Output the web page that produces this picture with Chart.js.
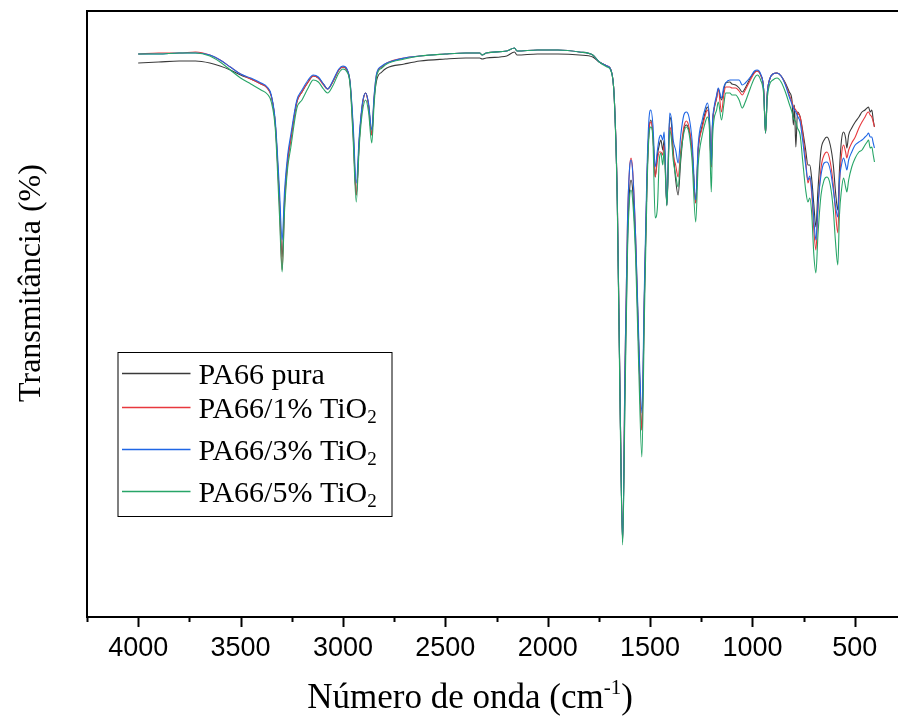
<!DOCTYPE html>
<html>
<head>
<meta charset="utf-8">
<script src="https://cdn.jsdelivr.net/npm/chart.js@4.4.1/dist/chart.umd.min.js"></script>
<style>
  html, body { margin: 0; padding: 0; background: #fff; overflow: hidden; }
  #wrap { width: 910px; height: 720px; }
</style>
</head>
<body>
<div id="wrap"><canvas id="ftir" width="910" height="720"></canvas></div>
<script>
// wavenumbers (cm-1), shared by all spectra
const wavenumber = [
  4000, 3900, 3800, 3720, 3650, 3600, 3550, 3500, 3450, 3400, 3370, 3350, 3330, 3310, 3297, 3285,
  3270, 3255, 3225, 3200, 3170, 3145, 3120, 3095, 3075, 3050, 3020, 3000, 2980, 2965, 2950, 2935,
  2920, 2905, 2889, 2875, 2859, 2848, 2835, 2810, 2786, 2700, 2624, 2500, 2400, 2332, 2320, 2300,
  2200, 2162, 2150, 2050, 1950, 1845, 1780, 1748, 1710, 1691, 1675, 1660, 1645, 1634, 1622, 1610,
  1600, 1593, 1585, 1570, 1555, 1540, 1528, 1515, 1505, 1496, 1486, 1475, 1464, 1455, 1447, 1438,
  1431, 1418, 1404, 1395, 1387, 1375, 1363, 1350, 1335, 1323, 1310, 1295, 1277, 1265, 1245, 1230,
  1220, 1210, 1201, 1195, 1188, 1175, 1167, 1151, 1140, 1131, 1110, 1100, 1082, 1065, 1050, 1035,
  1010, 990, 977, 960, 945, 936, 928, 917, 900, 880, 860, 839, 820, 807, 800, 795,
  788, 780, 767, 755, 740, 729, 720, 710, 700, 690, 680, 665, 650, 636, 620, 605,
  595, 583, 575, 565, 555, 545, 539, 530, 515, 498, 480, 465, 450, 440, 433, 425,
  417, 410, 404
];

const pa66Pura = [
  55.4, 55.5, 55.6, 55.6, 55.4, 55.1, 54.7, 54.2, 53.8, 53.3, 52.9, 52.1, 49.2, 41.7, 36.0, 41.7,
  45.7, 47.7, 51.5, 52.5, 53.5, 54.1, 53.9, 53.3, 52.8, 53.5, 54.7, 55.0, 54.7, 53.4, 48.7, 42.2,
  47.7, 51.2, 52.4, 51.2, 48.2, 51.7, 53.7, 54.5, 54.9, 55.3, 55.6, 55.8, 55.9, 55.9, 55.8, 55.9,
  56.1, 56.5, 56.2, 56.3, 56.3, 56.2, 56.0, 55.5, 55.1, 54.7, 52.0, 41.7, 19.7, 7.5, 23.7, 37.7,
  42.7, 43.7, 42.7, 36.7, 26.7, 18.7, 31.7, 43.7, 48.7, 49.7, 48.2, 44.0, 46.2, 47.2, 47.7, 46.7,
  47.7, 41.2, 50.0, 49.2, 46.7, 43.7, 42.2, 45.7, 48.7, 49.2, 48.7, 46.7, 41.4, 46.7, 49.2, 50.5,
  51.0, 49.7, 45.0, 49.2, 50.7, 51.9, 52.8, 51.7, 52.7, 53.4, 53.5, 53.3, 53.2, 52.9, 52.5, 52.9,
  53.9, 54.5, 54.6, 54.2, 52.7, 48.4, 52.2, 53.7, 54.3, 54.4, 54.1, 53.4, 52.5, 51.7, 49.2, 51.2,
  47.0, 50.5, 50.0, 48.7, 46.7, 45.2, 45.2, 43.7, 41.2, 39.0, 42.7, 46.7, 47.7, 48.0, 47.2, 45.2,
  42.7, 40.7, 44.7, 47.7, 48.5, 47.9, 46.9, 48.2, 48.9, 49.5, 50.0, 50.5, 50.7, 50.9, 51.0, 50.5,
  50.7, 49.7, 49.0
];

const pa66Ti1 = [
  56.3, 56.4, 56.4, 56.5, 56.2, 55.7, 55.0, 54.3, 53.8, 53.3, 52.9, 52.1, 49.2, 41.2, 34.7, 41.2,
  45.5, 47.7, 51.5, 52.5, 53.5, 54.1, 53.9, 53.2, 52.8, 53.5, 54.7, 55.0, 54.7, 53.4, 48.2, 42.2,
  47.7, 51.2, 52.4, 51.2, 48.2, 51.9, 54.3, 55.0, 55.4, 55.9, 56.1, 56.3, 56.4, 56.4, 56.2, 56.4,
  56.6, 56.9, 56.6, 56.7, 56.7, 56.5, 56.2, 55.5, 55.1, 54.7, 52.0, 41.7, 19.7, 7.6, 25.7, 39.7,
  44.9, 45.9, 44.7, 37.7, 26.7, 18.7, 31.7, 43.7, 48.7, 49.5, 48.2, 44.0, 45.7, 46.5, 46.5, 46.2,
  47.2, 41.2, 49.0, 48.2, 46.2, 45.2, 44.0, 46.7, 49.0, 49.6, 49.0, 46.7, 41.4, 46.7, 48.9, 50.2,
  50.7, 49.4, 45.0, 49.2, 50.7, 51.9, 52.8, 50.5, 52.2, 53.0, 53.0, 52.9, 52.9, 52.6, 52.2, 52.7,
  53.7, 54.4, 54.6, 54.2, 52.7, 48.4, 52.2, 53.7, 54.3, 54.4, 54.1, 53.3, 52.2, 51.5, 51.1, 50.9,
  50.7, 50.4, 50.0, 48.4, 45.7, 43.4, 43.9, 42.2, 38.7, 36.7, 40.7, 44.9, 46.2, 46.5, 45.5, 43.2,
  40.7, 38.4, 43.2, 46.2, 47.2, 46.5, 45.9, 46.7, 47.4, 48.0, 48.9, 49.5, 50.0, 50.4, 50.5, 50.2,
  50.0, 49.5, 49.0
];

const pa66Ti3 = [
  56.3, 56.3, 56.4, 56.4, 56.2, 55.7, 55.0, 54.3, 53.9, 53.4, 53.0, 52.2, 49.5, 42.7, 37.7, 42.7,
  46.2, 48.2, 51.7, 52.7, 53.7, 54.2, 54.0, 53.3, 52.8, 53.6, 54.8, 55.1, 54.8, 53.5, 49.2, 43.4,
  48.2, 51.4, 52.4, 51.4, 48.7, 52.1, 54.4, 55.1, 55.4, 55.9, 56.1, 56.3, 56.4, 56.4, 56.2, 56.4,
  56.6, 56.9, 56.6, 56.7, 56.7, 56.5, 56.2, 55.5, 55.1, 54.7, 52.0, 41.7, 19.7, 7.6, 25.7, 39.7,
  44.9, 45.7, 44.5, 37.7, 27.7, 20.4, 32.7, 44.7, 49.9, 50.7, 49.2, 45.0, 46.7, 47.9, 48.2, 47.7,
  48.5, 41.2, 50.4, 49.7, 47.7, 46.7, 45.4, 48.2, 50.2, 50.5, 50.0, 47.7, 41.7, 47.2, 49.7, 50.9,
  51.4, 49.9, 45.2, 49.5, 50.9, 52.2, 52.9, 51.9, 53.0, 53.4, 53.7, 53.7, 53.7, 53.7, 53.2, 53.4,
  54.0, 54.6, 54.7, 54.3, 52.7, 48.4, 52.2, 53.7, 54.3, 54.4, 54.1, 53.2, 52.0, 51.3, 50.9, 50.7,
  50.5, 50.1, 49.5, 47.7, 45.2, 43.7, 44.1, 42.7, 39.7, 37.7, 41.2, 44.2, 45.4, 45.5, 44.7, 42.7,
  41.2, 40.0, 43.7, 45.2, 45.9, 45.2, 44.7, 45.7, 46.5, 47.2, 47.5, 47.7, 48.0, 48.2, 48.4, 48.0,
  48.0, 47.4, 46.9
];

const pa66Ti5 = [
  56.3, 56.3, 56.4, 56.4, 56.1, 55.5, 54.7, 53.9, 53.3, 52.7, 52.3, 51.5, 48.7, 40.2, 34.5, 40.7,
  44.9, 46.9, 50.9, 51.7, 52.9, 53.7, 53.5, 52.8, 52.4, 53.1, 54.4, 54.8, 54.5, 53.2, 47.7, 41.5,
  47.2, 50.5, 51.7, 50.5, 47.4, 51.2, 54.1, 54.9, 55.3, 55.8, 56.1, 56.3, 56.4, 56.4, 56.2, 56.4,
  56.6, 56.9, 56.6, 56.7, 56.7, 56.5, 56.2, 55.5, 55.0, 54.6, 51.9, 41.2, 18.7, 7.2, 22.2, 36.7,
  41.9, 42.7, 41.7, 35.7, 24.7, 16.0, 29.7, 42.7, 48.2, 49.0, 47.7, 39.9, 41.0, 45.7, 46.4, 45.2,
  46.7, 41.1, 48.7, 47.7, 45.7, 44.2, 43.0, 46.2, 48.4, 49.0, 48.4, 45.7, 39.5, 45.2, 48.2, 49.5,
  50.0, 48.7, 42.5, 47.7, 49.7, 50.7, 51.5, 49.7, 51.2, 52.4, 52.4, 52.2, 52.2, 51.7, 50.9, 51.5,
  52.9, 53.9, 54.2, 53.7, 52.2, 48.4, 51.7, 53.2, 53.7, 53.9, 53.5, 52.5, 51.3, 50.5, 49.9, 49.7,
  49.5, 48.9, 48.2, 45.7, 42.7, 41.5, 41.9, 40.2, 36.2, 34.4, 38.2, 42.2, 43.7, 44.0, 43.2, 40.7,
  37.7, 35.2, 40.2, 42.7, 43.9, 43.0, 42.5, 43.7, 45.0, 45.9, 46.5, 46.7, 47.2, 47.5, 47.7, 46.9,
  47.0, 46.2, 45.5
];

const seriesNames = ['PA66 pura', 'PA66/1% TiO', 'PA66/3% TiO', 'PA66/5% TiO'];
const seriesSub = ['', '2', '2', '2'];
const seriesColors = ['#3a3a3a', '#e8383d', '#1f66e5', '#27a567'];
const xTicks = [4000, 3500, 3000, 2500, 2000, 1500, 1000, 500];
const minorStep = 250;

const serif = '"Liberation Serif", "Times New Roman", serif';
const sans = '"Liberation Sans", Arial, sans-serif';

function toPoints(arr) {
  return wavenumber.map((w, i) => ({ x: w, y: arr[i] }));
}

// frame, tick marks, axis titles and the boxed legend
const decor = {
  id: 'decor',
  afterDraw(chart) {
    const ctx = chart.ctx;
    const a = chart.chartArea;
    const xs = chart.scales.x;
    ctx.save();
    ctx.strokeStyle = '#000';
    ctx.lineWidth = 2;
    ctx.strokeRect(a.left, a.top, a.right - a.left, a.bottom - a.top);

    // ticks on the bottom axis
    for (let v = xs.max; v >= xs.min; v -= minorStep) {
      const px = Math.round(xs.getPixelForValue(v)) + 0.5;
      const len = v % 500 === 0 ? 10 : 5;
      ctx.beginPath();
      ctx.moveTo(px, a.bottom);
      ctx.lineTo(px, a.bottom + len);
      ctx.stroke();
    }

    // x title with superscript
    ctx.fillStyle = '#000';
    ctx.textBaseline = 'alphabetic';
    ctx.textAlign = 'left';
    const big = '35px ' + serif, small = '21px ' + serif;
    const p1 = 'Número de onda (cm', p2 = '-1', p3 = ')';
    ctx.font = big;
    const w1 = ctx.measureText(p1).width, w3 = ctx.measureText(p3).width;
    ctx.font = small;
    const w2 = ctx.measureText(p2).width;
    let tx = 470 - (w1 + w2 + w3) / 2;
    const ty = 708;
    ctx.font = big; ctx.fillText(p1, tx, ty); tx += w1;
    ctx.font = small; ctx.fillText(p2, tx, ty - 14); tx += w2;
    ctx.font = big; ctx.fillText(p3, tx, ty);

    // y title
    ctx.save();
    ctx.translate(40, 283);
    ctx.rotate(-Math.PI / 2);
    ctx.textAlign = 'center';
    ctx.font = '32px ' + serif;
    ctx.fillText('Transmitância (%)', 0, 0);
    ctx.restore();

    // legend
    const bx = a.left + 30.5, by = a.top + 341;
    ctx.strokeStyle = '#000';
    ctx.lineWidth = 1;
    ctx.strokeRect(bx + 0.5, by + 0.5, 274, 164);
    const rows = [20.5, 55, 97, 138.5];
    rows.forEach((ry, i) => {
      const ly = Math.round(by + ry) + 0.5;
      ctx.strokeStyle = seriesColors[i];
      ctx.lineWidth = 1.6;
      ctx.beginPath();
      ctx.moveTo(bx + 4.5, ly);
      ctx.lineTo(bx + 73, ly);
      ctx.stroke();
      ctx.fillStyle = '#000';
      ctx.font = '30px ' + serif;
      ctx.textAlign = 'left';
      ctx.fillText(seriesNames[i], bx + 81, ly + 10);
      if (seriesSub[i]) {
        const w = ctx.measureText(seriesNames[i]).width;
        ctx.font = '19px ' + serif;
        ctx.fillText(seriesSub[i], bx + 81 + w, ly + 15.5);
      }
    });
    ctx.restore();
  }
};

const datasets = [pa66Pura, pa66Ti1, pa66Ti3, pa66Ti5].map((arr, i) => ({
  label: seriesNames[i] + seriesSub[i],
  data: toPoints(arr),
  borderColor: seriesColors[i],
  borderWidth: 1.1,
  pointRadius: 0,
  fill: false,
  cubicInterpolationMode: 'monotone',
  order: 4 - i
}));

new Chart(document.getElementById('ftir').getContext('2d'), {
  type: 'line',
  data: { datasets: datasets },
  options: {
    responsive: false,
    animation: false,
    layout: { padding: { left: 87, top: 11, right: 4, bottom: 0 } },
    plugins: { legend: { display: false }, tooltip: { enabled: false } },
    scales: {
      x: {
        type: 'linear',
        reverse: true,
        min: 250,
        max: 4250,
        grid: { display: false, drawTicks: false },
        border: { display: false },
        afterBuildTicks: (scale) => { scale.ticks = xTicks.map(v => ({ value: v })); },
        afterFit: (scale) => { scale.height = 103; },
        ticks: {
          autoSkip: false,
          maxRotation: 0,
          padding: 15,
          color: '#000',
          font: { family: sans, size: 27 },
          callback: (v) => String(v)
        }
      },
      y: {
        display: false,
        min: 0,
        max: 60.6
      }
    }
  },
  plugins: [decor]
});
</script>
</body>
</html>
